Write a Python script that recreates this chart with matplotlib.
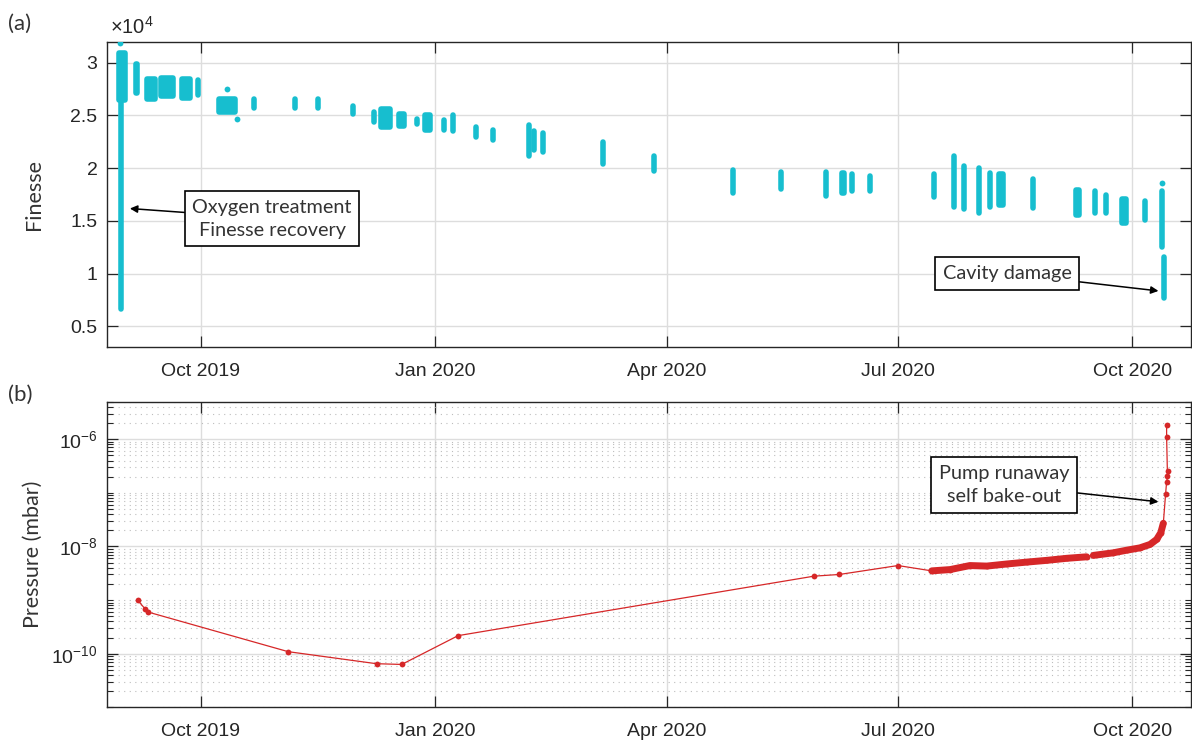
import numpy as np
import pandas as pd
import matplotlib
matplotlib.use('Agg')
import matplotlib.pyplot as plt
import matplotlib.dates as mdates
from matplotlib.ticker import (FuncFormatter, FixedLocator, LogLocator, LogFormatterMathtext,
                               NullFormatter, MultipleLocator)

plt.rcParams['mathtext.fontset'] = 'custom'
plt.rcParams['mathtext.rm'] = 'Liberation Sans'
plt.rcParams['mathtext.it'] = 'Liberation Sans:italic'

# ---- finesse measurement runs: start, duration (days), min / max finesse (x1e4)
fin_start = ['2019-08-30 14:00', '2019-08-30 00:00', '2019-09-05 08:00', '2019-09-10 00:00',
             '2019-09-15 12:00', '2019-09-23 12:00', '2019-09-29 17:00', '2019-10-08 00:00',
             '2019-10-22 00:00', '2019-11-06 22:00', '2019-11-16 00:00', '2019-11-29 17:00',
             '2019-12-08 02:00', '2019-12-10 17:00', '2019-12-17 17:00', '2019-12-24 19:00',
             '2019-12-28 05:00', '2020-01-04 17:00', '2020-01-08 00:00', '2020-01-16 22:00',
             '2020-01-23 22:00', '2020-02-07 00:00', '2020-02-09 02:00', '2020-02-12 12:00',
             '2020-03-06 22:00', '2020-03-27 00:00', '2020-04-27 00:00', '2020-05-15 19:00',
             '2020-06-02 17:00', '2020-06-08 19:00', '2020-06-12 17:00', '2020-06-19 22:00',
             '2020-07-15 00:00', '2020-07-22 22:00', '2020-07-26 17:00', '2020-08-01 22:00',
             '2020-08-06 00:00', '2020-08-09 19:00', '2020-08-22 22:00', '2020-09-08 19:00',
             '2020-09-16 12:00', '2020-09-20 12:00', '2020-09-26 22:00', '2020-10-06 00:00',
             '2020-10-12 12:00', '2020-10-13 07:00']
fin_days = [0, 2.2, 0.7, 3.0, 4.5, 3.3, 0, 6.5,
            0, 0, 0, 0,
            0, 3.7, 2.2, 0,
            1.8, 0, 0, 0,
            0, 0, 0, 0,
            0, 0, 0, 0,
            0, 0.9, 0, 0,
            0, 0, 0, 0,
            0, 1.4, 0, 1.3,
            0, 0, 1.7, 0,
            0, 0]
fin_low = np.array([0.66, 2.65, 2.71, 2.66, 2.68, 2.67, 2.69, 2.53,
                    2.57, 2.57, 2.57, 2.51, 2.44, 2.39, 2.40, 2.42,
                    2.36, 2.36, 2.35, 2.30, 2.27, 2.12, 2.17, 2.15,
                    2.04, 1.97, 1.76, 1.80, 1.74, 1.76, 1.78, 1.78,
                    1.73, 1.63, 1.61, 1.57, 1.63, 1.65, 1.62, 1.56,
                    1.57, 1.57, 1.48, 1.51, 1.25, 0.77]) * 1e4
fin_high = np.array([2.67, 3.09, 2.99, 2.85, 2.86, 2.85, 2.84, 2.66,
                     2.66, 2.66, 2.66, 2.59, 2.53, 2.56, 2.51, 2.47,
                     2.50, 2.46, 2.50, 2.39, 2.36, 2.41, 2.35, 2.33,
                     2.25, 2.12, 1.98, 1.96, 1.96, 1.95, 1.94, 1.93,
                     1.94, 2.12, 2.02, 2.00, 1.95, 1.94, 1.90, 1.79,
                     1.78, 1.75, 1.71, 1.69, 1.78, 1.16]) * 1e4

# isolated finesse points
dot_dates = ['2019-08-30 05:00', '2019-10-11 02:00', '2019-10-15 00:00', '2020-10-12 12:00']
dot_vals = np.array([3.19, 2.75, 2.47, 1.86]) * 1e4

# ---- chamber pressure (mbar)
press_dates = ['2019-09-06 02:00', '2019-09-09 00:00', '2019-09-10 02:00', '2019-11-04 07:00',
               '2019-12-09 00:00', '2019-12-18 22:00', '2020-01-10 02:00', '2020-05-28 22:00',
               '2020-06-07 22:00', '2020-06-30 22:00',
               '2020-07-14 05:00', '2020-07-21 10:00', '2020-07-29 05:00', '2020-08-04 19:00',
               '2020-08-12 14:00', '2020-08-20 12:00', '2020-08-28 10:00', '2020-09-05 05:00',
               '2020-09-13 02:00', '2020-09-15 17:00', '2020-09-23 12:00', '2020-09-28 19:00',
               '2020-10-04 00:00', '2020-10-08 00:00', '2020-10-10 14:00', '2020-10-12 05:00',
               '2020-10-13 05:00', '2020-10-14 02:00', '2020-10-14 12:00', '2020-10-15 05:00',
               '2020-10-14 20:00', '2020-10-14 12:00', '2020-10-14 12:00']
press_vals = [1.0e-9, 6.9e-10, 6.0e-10, 1.09e-10,
              6.5e-11, 6.3e-11, 2.17e-10, 2.79e-9,
              3.0e-9, 4.4e-9,
              3.5e-9, 3.7e-9, 4.4e-9, 4.3e-9,
              4.7e-9, 5.1e-9, 5.5e-9, 6.0e-9,
              6.4e-9, 6.8e-9, 7.6e-9, 8.5e-9,
              9.4e-9, 1.09e-8, 1.35e-8, 1.8e-8,
              2.7e-8, 9.3e-8, 1.6e-7, 2.5e-7,
              2.1e-7, 1.12e-6, 1.85e-6]
press_ticks = [1e-10, 1e-8, 1e-6]

cyan = '#17becf'
red = '#d62728'
dark = '#262626'
label_font = 'Lato'
tick_font = 'Liberation Sans'

fin_t0 = pd.to_datetime(fin_start)
fin_t1 = fin_t0 + pd.to_timedelta(fin_days, unit='D')
p_t = pd.to_datetime(press_dates)
p_v = np.array(press_vals)

fig = plt.figure(figsize=(11.92, 7.40), dpi=100)
ax1 = fig.add_axes([107.3 / 1192, 1 - 347.3 / 740, (1191 - 107.3) / 1192, (347.3 - 41.7) / 740])
ax2 = fig.add_axes([107.3 / 1192, 1 - 707.3 / 740, (1191 - 107.3) / 1192, (707.3 - 401.7) / 740])

# top panel: finesse
for s, e, lo, hi in zip(mdates.date2num(fin_t0), mdates.date2num(fin_t1), fin_low, fin_high):
    ax1.fill([s, e, e, s], [lo, lo, hi, hi], facecolor=cyan, edgecolor=cyan,
             lw=4.0, joinstyle='round', capstyle='round', zorder=3)
ax1.plot(pd.to_datetime(dot_dates), dot_vals, 'o', color=cyan, ms=4.2, mew=0, zorder=3)

ax1.set_ylim(0.3e4, 3.2e4)
ax1.yaxis.set_major_locator(MultipleLocator(0.5e4))
ax1.yaxis.set_major_formatter(FuncFormatter(lambda v, p: f'{v / 1e4:g}'))
ax1.set_ylabel('Finesse', fontfamily=label_font, fontsize=15.5, color='#333333', labelpad=19)
ax1.text(0.0025, 1.012, r'$\times\mathdefault{10^{4}}$', transform=ax1.transAxes,
         fontsize=14.5, color=dark, ha='left', va='bottom', fontfamily=tick_font)

# bottom panel: pressure
ax2.plot(p_t, p_v, '-o', color=red, lw=0.9, ms=4.2, mew=0, zorder=3)
band1 = (p_t >= pd.Timestamp('2020-07-14')) & (p_t <= pd.Timestamp('2020-09-13 03:00'))
band2 = (p_t >= pd.Timestamp('2020-09-15 17:00')) & (p_t <= pd.Timestamp('2020-10-13 06:00'))
for m in (band1, band2):
    ax2.plot(p_t[m], p_v[m], '-', color=red, lw=5.0, solid_capstyle='round',
             solid_joinstyle='round', zorder=3)

ax2.set_yscale('log')
ax2.set_ylim(1e-11, 5e-6)
ax2.yaxis.set_major_locator(FixedLocator(press_ticks))
ax2.yaxis.set_major_formatter(LogFormatterMathtext(base=10.0))
ax2.yaxis.set_minor_locator(LogLocator(base=10.0, subs=np.arange(1, 10), numticks=30))
ax2.yaxis.set_minor_formatter(NullFormatter())
ax2.set_ylabel('Pressure (mbar)', fontfamily=label_font, fontsize=15.5, color='#333333', labelpad=6)
ax2.grid(True, which='minor', axis='y', color='#bdbdbd', lw=0.8, ls=(0, (1, 4)))

for ax in (ax1, ax2):
    ax.set_xlim(pd.Timestamp('2019-08-25 05:00'), pd.Timestamp('2020-10-24 02:00'))
    ax.xaxis.set_major_locator(mdates.MonthLocator(bymonth=[1, 4, 7, 10]))
    ax.xaxis.set_major_formatter(mdates.DateFormatter('%b %Y'))
    ax.grid(True, which='major', color='#dddddd', lw=1.0)
    ax.set_axisbelow(True)
    ax.tick_params(which='major', direction='in', length=8, width=0.9, color=dark,
                   top=True, right=True, labelsize=14, labelcolor=dark, pad=7)
    ax.tick_params(which='minor', direction='in', length=4.5, width=0.8, color=dark,
                   top=False, right=True)
    ax.tick_params(axis='x', pad=11)
    for lab in ax.get_xticklabels() + ax.get_yticklabels():
        lab.set_fontfamily(tick_font)
    for sp in ax.spines.values():
        sp.set_color(dark)
        sp.set_linewidth(1.0)

box = dict(boxstyle='square,pad=0.38', fc='white', ec='black', lw=1.2)
arrow = dict(arrowstyle='-|>', color='black', lw=1.1, mutation_scale=11, shrinkA=0, shrinkB=0)

ax1.annotate('Oxygen treatment\nFinesse recovery', xy=(pd.Timestamp('2019-09-03 02:00'), 16170),
             xytext=(pd.Timestamp('2019-10-29'), 15200), ha='center', va='center',
             fontsize=14.3, fontfamily=label_font, color='#333333', linespacing=1.45,
             bbox=box, arrowprops=arrow, zorder=5)
ax1.annotate('Cavity damage', xy=(pd.Timestamp('2020-10-11 07:00'), 8350),
             xytext=(pd.Timestamp('2020-08-12 19:00'), 10000), ha='center', va='center',
             fontsize=14.3, fontfamily=label_font, color='#333333',
             bbox=box, arrowprops=arrow, zorder=5)
ax2.annotate('Pump runaway\nself bake-out', xy=(pd.Timestamp('2020-10-11 07:00'), 6.8e-8),
             xytext=(pd.Timestamp('2020-08-11 17:00'), 1.4e-7), ha='center', va='center',
             fontsize=14.3, fontfamily=label_font, color='#333333', linespacing=1.45,
             bbox=box, arrowprops=arrow, zorder=5)

fig.text(8 / 1192, 1 - 30 / 740, '(a)', fontsize=16, fontfamily=label_font, color='#333333')
fig.text(8 / 1192, 1 - 401 / 740, '(b)', fontsize=16, fontfamily=label_font, color='#333333')

fig.savefig('out.png', dpi=100)
